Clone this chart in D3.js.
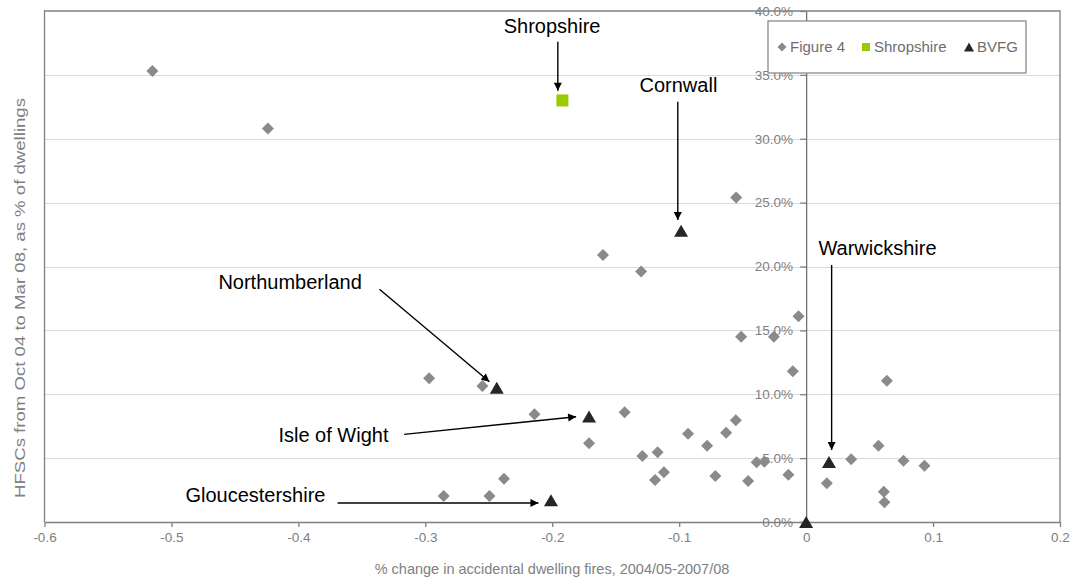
<!DOCTYPE html>
<html><head><meta charset="utf-8">
<script src="https://cdn.jsdelivr.net/npm/d3@7"></script>
<style>body{margin:0;background:#fff}svg{display:block;font-family:"Liberation Sans",Arial,sans-serif}</style>
</head><body><svg id="c" width="1074" height="579"></svg>
<script>
// "Figure 4" series (grey diamonds): x = % change in fires, y = HFSCs %
const figX = [-0.515,-0.424,-0.0551,-0.160,-0.130,-0.006,-0.0512,-0.0254,-0.0105,0.0636,
  -0.297,-0.255,-0.214,-0.143,-0.171,-0.0554,-0.093,-0.063,-0.078,0.057,
  -0.129,-0.117,-0.039,-0.0329,0.0355,0.0767,0.0932,-0.238,-0.112,-0.0715,
  -0.014,-0.119,-0.0457,0.0163,0.0612,0.0617,-0.2855,-0.2495];
const figY = [35.3,30.8,25.4,20.9,19.6,16.1,14.5,14.5,11.8,11.06,
  11.25,10.65,8.43,8.59,6.16,7.96,6.91,6.99,5.97,5.97,
  5.17,5.46,4.67,4.72,4.91,4.80,4.41,3.39,3.89,3.60,
  3.70,3.29,3.21,3.03,2.37,1.54,2.04,2.04];
// Shropshire series (green square)
const shropX = [-0.192];
const shropY = [33.0];
// BVFG series (dark triangles)
const bvfgX = [-0.0985,-0.2437,-0.171,-0.201,0.018,0];
const bvfgY = [22.8,10.5,8.25,1.7,4.7,0];
// axis ticks
const xTicks = [-0.6,-0.5,-0.4,-0.3,-0.2,-0.1,0,0.1,0.2];
const yTicks = [0,5,10,15,20,25,30,35,40];
const legendLabels = ["Figure 4","Shropshire","BVFG"];
// annotations (data space)
const annLabels = ["Shropshire","Cornwall","Warwickshire","Northumberland","Isle of Wight","Gloucestershire"];
const annTextX  = [-0.2001,-0.1006,0.0097,-0.463,-0.4157,-0.489];
const annTextY  = [38.28,33.64,20.90,18.22,6.24,1.57];
const annAnchor = ["middle","middle","start","start","start","start"];
const arrX1 = [-0.1956,-0.1011,0.0201,-0.3361,-0.3167,-0.3691];
const arrY1 = [37.6,32.9,20.12,18.22,6.86,1.49];
const arrX2 = [-0.1956,-0.1011,0.0201,-0.2495,-0.1812,-0.2109];
const arrY2 = [33.76,23.64,5.64,10.98,8.24,1.49];

const svg = d3.select("#c");
const L=44.5,R=1060,T=11,B=522;
const x = d3.scaleLinear([-0.6,0.2],[L,R]);
const y = d3.scaleLinear([0,40],[B,T]);
const grey="#808080";

svg.append("defs").append("marker").attr("id","ah")
  .attr("viewBox","0 0 10 10").attr("refX",10).attr("refY",5)
  .attr("markerWidth",9).attr("markerHeight",8).attr("markerUnits","userSpaceOnUse")
  .attr("orient","auto").append("path").attr("d","M0,0L10,5L0,10Z").attr("fill","#000");

// gridlines
svg.append("g").selectAll("line").data(yTicks.filter(d=>d>0&&d<40)).join("line")
  .attr("x1",L).attr("x2",R).attr("y1",d=>Math.round(y(d))+0.5).attr("y2",d=>Math.round(y(d))+0.5)
  .attr("stroke","#dadada").attr("stroke-width",1.2);

// x axis
const gx = svg.append("g").attr("transform",`translate(0,${B})`)
  .call(d3.axisBottom(x).tickValues(xTicks).tickSize(5).tickSizeOuter(0).tickPadding(5)
  .tickFormat(d=>String(+d.toFixed(1))));
gx.select(".domain").attr("stroke",grey).attr("stroke-width",1.3);
gx.selectAll(".tick line").attr("stroke",grey).attr("stroke-width",1.3);
gx.selectAll("text").attr("fill",grey).attr("font-size",13.5).attr("font-family","Liberation Sans, Arial");

// y axis at x=0
const gy = svg.append("g").attr("transform",`translate(${x(0)},0)`)
  .call(d3.axisLeft(y).tickValues(yTicks).tickSize(6).tickSizeOuter(0).tickPadding(7)
  .tickFormat(d=>d.toFixed(1)+"%"));
gy.select(".domain").attr("stroke","#707070").attr("stroke-width",1.3);
gy.selectAll(".tick line").attr("stroke",grey).attr("stroke-width",1.3);
gy.selectAll("text").attr("fill",grey).attr("font-size",13.5).attr("font-family","Liberation Sans, Arial");

// plot border
svg.append("path").attr("d",`M${L},${B}V${T}H${R}V${B}`).attr("fill","none")
  .attr("stroke",grey).attr("stroke-width",1.3);

// axis titles
svg.append("text").attr("x",552).attr("y",574).attr("text-anchor","middle")
  .attr("fill",grey).attr("font-size",14.5).text("% change in accidental dwelling fires, 2004/05-2007/08");
svg.append("text").attr("transform","translate(25,298) rotate(-90)").attr("text-anchor","middle")
  .attr("fill",grey).attr("font-size",14.5).attr("textLength",400).attr("lengthAdjust","spacingAndGlyphs")
  .text("HFSCs from Oct 04 to Mar 08, as % of dwellings");

// markers
const diamond = (s)=>`M0,${-s}L${s},0L0,${s}L${-s},0Z`;
const tri = (w,h)=>`M0,${-h/2}L${w/2},${h/2}L${-w/2},${h/2}Z`;
svg.append("g").selectAll("path").data(figX).join("path")
  .attr("transform",(d,i)=>`translate(${x(d)},${y(figY[i])})`)
  .attr("d",diamond(6)).attr("fill","#8a8a8a");
svg.append("g").selectAll("rect").data(shropX).join("rect")
  .attr("x",d=>x(d)-6).attr("y",(d,i)=>y(shropY[i])-6).attr("width",12).attr("height",12)
  .attr("fill","#99cc00");
svg.append("g").selectAll("path").data(bvfgX).join("path")
  .attr("transform",(d,i)=>`translate(${x(d)},${y(bvfgY[i])})`)
  .attr("d",tri(14,12)).attr("fill","#262626");

// annotations
const ann = svg.append("g");
ann.selectAll("text").data(annLabels).join("text")
  .attr("x",(d,i)=>x(annTextX[i])).attr("y",(d,i)=>y(annTextY[i]))
  .attr("text-anchor",(d,i)=>annAnchor[i]).attr("font-size",20).attr("fill","#000").text(d=>d);
ann.selectAll("line").data(annLabels).join("line")
  .attr("x1",(d,i)=>x(arrX1[i])).attr("y1",(d,i)=>y(arrY1[i]))
  .attr("x2",(d,i)=>x(arrX2[i])).attr("y2",(d,i)=>y(arrY2[i]))
  .attr("stroke","#000").attr("stroke-width",1.4).attr("marker-end","url(#ah)");

// legend
const lg = svg.append("g");
lg.append("rect").attr("x",768).attr("y",21).attr("width",258).attr("height",52)
  .attr("fill","#fff").attr("stroke",grey).attr("stroke-width",1.2);
const legX=[782,866,969];
lg.append("path").attr("transform",`translate(${legX[0]},47)`).attr("d",diamond(4.5)).attr("fill","#8a8a8a");
lg.append("rect").attr("x",legX[1]-4).attr("y",43).attr("width",8).attr("height",8).attr("fill","#99cc00");
lg.append("path").attr("transform",`translate(${legX[2]},47)`).attr("d",tri(10,9)).attr("fill","#262626");
lg.selectAll("text").data(legendLabels).join("text")
  .attr("x",(d,i)=>legX[i]+8).attr("y",52).attr("font-size",15).attr("fill","#6e6e6e").text(d=>d);
</script></body></html>
